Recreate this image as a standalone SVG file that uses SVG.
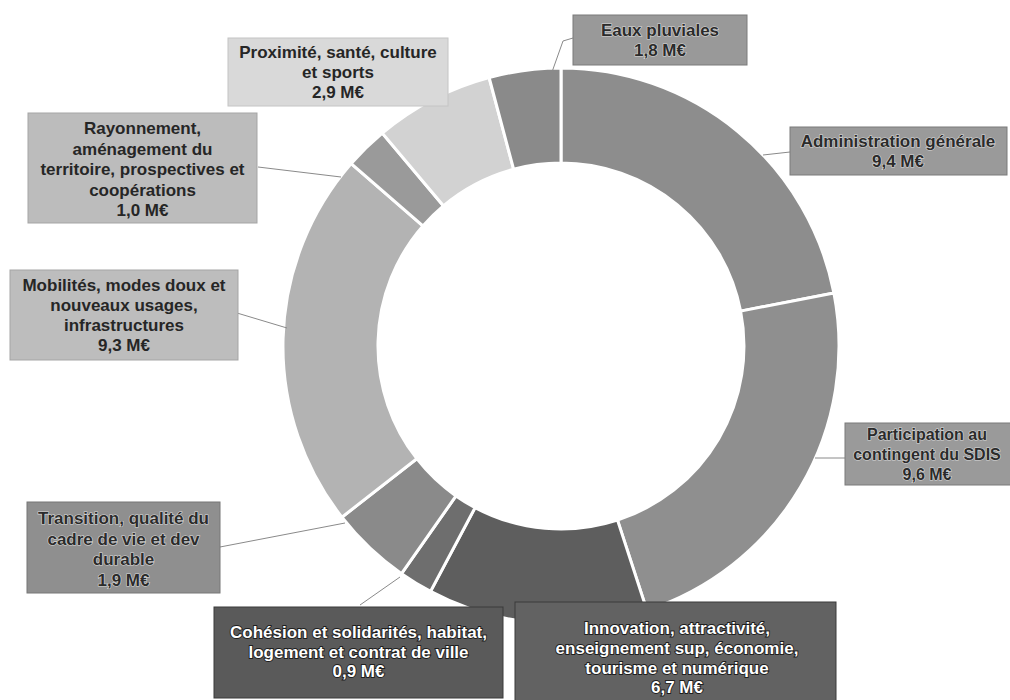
<svg xmlns="http://www.w3.org/2000/svg" width="1010" height="700" viewBox="0 0 1010 700">
  <style>
    .slice { stroke: #ffffff; stroke-width: 3; stroke-linejoin: miter; }
    .box { stroke-width: 1; }
    .lbl { font-family: "Liberation Sans", Arial, sans-serif; font-size: 17px; font-weight: bold; text-anchor: middle; }
    .dk { fill: #262626; }
    .md { fill: #2b2b2b; stroke: #d8d8d8; stroke-width: 1.2; paint-order: stroke; }
    .wt { fill: #ffffff; stroke: #1e1e1e; stroke-width: 1.8; paint-order: stroke; }
    .lead { fill: none; stroke: #8a8a8a; stroke-width: 1; }
  </style>
  <rect x="0" y="0" width="1010" height="700" fill="#ffffff"/>

  <g id="donut">
    <path id="slice-admin" class="slice" fill="#8d8d8d" d="M561,68 A278,278 0 0 1 833.9,293 L740.6,311.1 A183,183 0 0 0 561,163 Z"/>
    <path id="slice-sdis" class="slice" fill="#8f8f8f" d="M833.9,293 A278,278 0 0 1 646.9,610.4 L617.5,520.1 A183,183 0 0 0 740.6,311.1 Z"/>
    <path id="slice-innovation" class="slice" fill="#5e5e5e" d="M646.9,610.4 A278,278 0 0 1 430.5,591.4 L475.1,507.6 A183,183 0 0 0 617.5,520.1 Z"/>
    <path id="slice-cohesion" class="slice" fill="#6e6e6e" d="M430.5,591.4 A278,278 0 0 1 401.5,573.7 L456,495.9 A183,183 0 0 0 475.1,507.6 Z"/>
    <path id="slice-transition" class="slice" fill="#8a8a8a" d="M401.5,573.7 A278,278 0 0 1 341.9,517.2 L416.8,458.7 A183,183 0 0 0 456,495.9 Z"/>
    <path id="slice-mobilites" class="slice" fill="#b3b3b3" d="M341.9,517.2 A278,278 0 0 1 351.2,163.6 L422.9,225.9 A183,183 0 0 0 416.8,458.7 Z"/>
    <path id="slice-rayonnement" class="slice" fill="#9a9a9a" d="M351.2,163.6 A278,278 0 0 1 382.3,133.1 L443.4,205.8 A183,183 0 0 0 422.9,225.9 Z"/>
    <path id="slice-proximite" class="slice" fill="#d2d2d2" d="M382.3,133.1 A278,278 0 0 1 489.1,77.5 L513.6,169.2 A183,183 0 0 0 443.4,205.8 Z"/>
    <path id="slice-eaux" class="slice" fill="#8a8a8a" d="M489.1,77.5 A278,278 0 0 1 561,68 L561,163 A183,183 0 0 0 513.6,169.2 Z"/>
  </g>

  <g id="connectors">
    <polyline class="lead" points="573,38 563,41 552,72"/>
    <polyline class="lead" points="790,152 763,155"/>
    <polyline class="lead" points="815,458 845,458"/>
    <polyline class="lead" points="258,167 341,177"/>
    <polyline class="lead" points="237,313 287,328"/>
    <polyline class="lead" points="220,547 345,523"/>
    <polyline class="lead" points="360,605 400,577"/>
  </g>

  <g id="label-eaux">
    <rect class="box" x="573" y="15" width="174" height="50" fill="#999999" stroke="#7a7a7a"/>
    <text class="lbl md" x="660" y="36">Eaux pluviales</text>
    <text class="lbl md" x="660" y="56">1,8 M€</text>
  </g>

  <g id="label-admin">
    <rect class="box" x="790" y="127" width="217" height="48" fill="#9a9a9a" stroke="#7a7a7a"/>
    <text class="lbl md" x="898" y="147">Administration générale</text>
    <text class="lbl md" x="898" y="167">9,4 M€</text>
  </g>

  <g id="label-sdis">
    <rect class="box" x="845" y="423" width="185" height="62" fill="#9a9a9a" stroke="#7a7a7a"/>
    <text class="lbl md" x="927" y="440" style="font-size:16px">Participation au</text>
    <text class="lbl md" x="927" y="460" style="font-size:16px">contingent du SDIS</text>
    <text class="lbl md" x="927" y="480" style="font-size:16px">9,6 M€</text>
  </g>

  <g id="label-proximite">
    <rect class="box" x="228" y="38" width="220" height="68" fill="#d9d9d9" stroke="#c4c4c4"/>
    <text class="lbl dk" x="338" y="58">Proximité, santé, culture</text>
    <text class="lbl dk" x="338" y="78">et sports</text>
    <text class="lbl dk" x="338" y="98">2,9 M€</text>
  </g>

  <g id="label-rayonnement">
    <rect class="box" x="28" y="113" width="229" height="110" fill="#bcbcbc" stroke="#a5a5a5"/>
    <text class="lbl dk" x="142.5" y="134">Rayonnement,</text>
    <text class="lbl dk" x="142.5" y="154.5">aménagement du</text>
    <text class="lbl dk" x="142.5" y="175">territoire, prospectives et</text>
    <text class="lbl dk" x="142.5" y="195.5">coopérations</text>
    <text class="lbl dk" x="142.5" y="216">1,0 M€</text>
  </g>

  <g id="label-mobilites">
    <rect class="box" x="10" y="270" width="228" height="90" fill="#bdbdbd" stroke="#a5a5a5"/>
    <text class="lbl dk" x="124" y="291">Mobilités, modes doux et</text>
    <text class="lbl dk" x="124" y="311">nouveaux usages,</text>
    <text class="lbl dk" x="124" y="331">infrastructures</text>
    <text class="lbl dk" x="124" y="351">9,3 M€</text>
  </g>

  <g id="label-transition">
    <rect class="box" x="27" y="502" width="193" height="91" fill="#8f8f8f" stroke="#777777"/>
    <text class="lbl md" x="123.5" y="524">Transition, qualité du</text>
    <text class="lbl md" x="123.5" y="544.5">cadre de vie et dev</text>
    <text class="lbl md" x="123.5" y="565">durable</text>
    <text class="lbl md" x="123.5" y="585.5">1,9 M€</text>
  </g>

  <g id="label-cohesion">
    <rect class="box" x="214" y="607" width="289" height="91" fill="#5a5a5a" stroke="#3a3a3a"/>
    <text class="lbl wt" x="358.5" y="638">Cohésion et solidarités, habitat,</text>
    <text class="lbl wt" x="358.5" y="657.5">logement et contrat de ville</text>
    <text class="lbl wt" x="358.5" y="677">0,9 M€</text>
  </g>

  <g id="label-innovation">
    <rect class="box" x="515" y="602" width="321" height="100" fill="#626262" stroke="#3a3a3a"/>
    <text class="lbl wt" x="677" y="634">Innovation, attractivité,</text>
    <text class="lbl wt" x="677" y="654">enseignement sup, économie,</text>
    <text class="lbl wt" x="677" y="674">tourisme et numérique</text>
    <text class="lbl wt" x="677" y="693">6,7 M€</text>
  </g>
</svg>
